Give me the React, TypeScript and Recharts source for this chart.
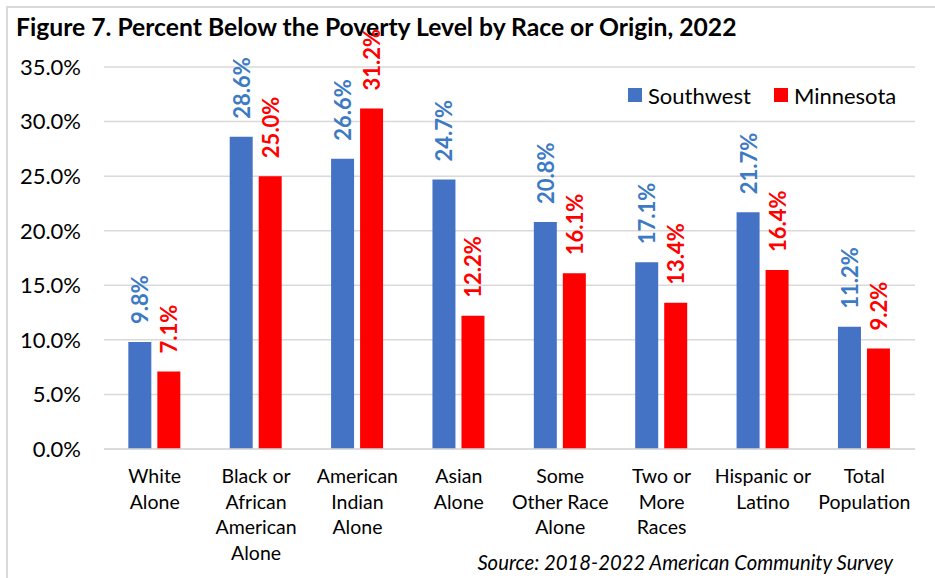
import React from "react";
import { BarChart, Bar, XAxis, YAxis, CartesianGrid, LabelList } from "recharts";

const categories = [
  "White\nAlone",
  "Black or\nAfrican\nAmerican\nAlone",
  "American\nIndian\nAlone",
  "Asian\nAlone",
  "Some\nOther Race\nAlone",
  "Two or\nMore\nRaces",
  "Hispanic or\nLatino",
  "Total\nPopulation",
];
const southwest = [9.8, 28.6, 26.6, 24.7, 20.8, 17.1, 21.7, 11.2];
const minnesota = [7.1, 25.0, 31.2, 12.2, 16.1, 13.4, 16.4, 9.2];
const yTicks = [0, 5, 10, 15, 20, 25, 30, 35];

const data = categories.map((name, i) => ({
  name,
  southwest: southwest[i],
  minnesota: minnesota[i],
}));

const FONT = "Lato, Carlito, Calibri, sans-serif";
const BLUE = "#4472C4";
const BLUE_LABEL = "#3C7AC4";
const RED = "#FF0000";

const XTick = (props: any) => {
  const { x, y, payload } = props;
  const lines = String(payload.value).split("\n");
  return (
    <text x={x} y={y + 34} textAnchor="middle" fontSize={19.5} fill="#000" fontFamily={FONT}>
      {lines.map((l, i) => (
        <tspan key={i} x={x} dy={i === 0 ? 0 : 25.7}>
          {l}
        </tspan>
      ))}
    </text>
  );
};

const makeLabel = (color: string) => (props: any) => {
  const { x, y, width, value } = props;
  const cx = x + width / 2;
  const by = y - 18;
  return (
    <text
      transform={`translate(${cx},${by}) rotate(-90)`}
      x={0}
      y={0}
      textAnchor="start"
      dominantBaseline="central"
      fontSize={22}
      fontWeight="bold"
      fill={color}
      fontFamily={FONT}
    >
      {value.toFixed(1)}%
    </text>
  );
};

export default function App() {
  return (
    <div style={{ position: "absolute", left: 0, top: 0, width: 935, height: 578, background: "#fff", overflow: "hidden" }}>
      <div
        style={{
          position: "absolute",
          left: 6,
          top: 6,
          width: 960,
          height: 620,
          border: "2px solid #d9d9d9",
          boxSizing: "border-box",
        }}
      />
      <div
        style={{
          position: "absolute",
          left: 16,
          top: 12,
          fontFamily: FONT,
          fontWeight: "bold",
          fontSize: 24.7,
          lineHeight: "30px",
          color: "#000",
          whiteSpace: "nowrap",
        }}
      >
        Figure 7. Percent Below the Poverty Level by Race or Origin, 2022
      </div>
      <div style={{ position: "absolute", left: 0, top: 0 }}>
        <BarChart
          width={935}
          height={578}
          data={data}
          margin={{ top: 67, right: 20, bottom: 19, left: 24 }}
          barCategoryGap="24%"
          barGap={6}
        >
          <CartesianGrid vertical={false} stroke="#d9d9d9" strokeWidth={1.5} />
          <XAxis
            dataKey="name"
            interval={0}
            tickLine={false}
            tickSize={0}
            tickMargin={0}
            axisLine={{ stroke: "#d9d9d9", strokeWidth: 1.5 }}
            tick={<XTick />}
            height={110}
          />
          <YAxis
            width={80}
            domain={[0, 35]}
            ticks={yTicks}
            tickFormatter={(v: number) => `${v.toFixed(1)}%`}
            tickLine={false}
            axisLine={false}
            tickSize={0}
            tickMargin={23}
            tick={{ fontSize: 22, fill: "#000", fontFamily: FONT }}
          />
          <Bar dataKey="southwest" fill={BLUE} isAnimationActive={false}>
            <LabelList dataKey="southwest" content={makeLabel(BLUE_LABEL)} />
          </Bar>
          <Bar dataKey="minnesota" fill={RED} isAnimationActive={false}>
            <LabelList dataKey="minnesota" content={makeLabel(RED)} />
          </Bar>
        </BarChart>
      </div>
      <div
        style={{
          position: "absolute",
          left: 628,
          top: 81,
          height: 28,
          display: "flex",
          alignItems: "center",
          fontFamily: FONT,
          fontSize: 22,
          color: "#000",
          whiteSpace: "nowrap",
        }}
      >
        <span style={{ width: 14, height: 14, background: BLUE, display: "inline-block", marginRight: 6 }} />
        <span style={{ marginRight: 23 }}>Southwest</span>
        <span style={{ width: 14, height: 14, background: RED, display: "inline-block", marginRight: 6 }} />
        <span>Minnesota</span>
      </div>
      <div
        style={{
          position: "absolute",
          right: 42,
          top: 549,
          lineHeight: "26px",
          fontFamily: FONT,
          fontStyle: "italic",
          fontSize: 20.3,
          color: "#000",
          whiteSpace: "nowrap",
        }}
      >
        Source: 2018-2022 American Community Survey
      </div>
    </div>
  );
}
